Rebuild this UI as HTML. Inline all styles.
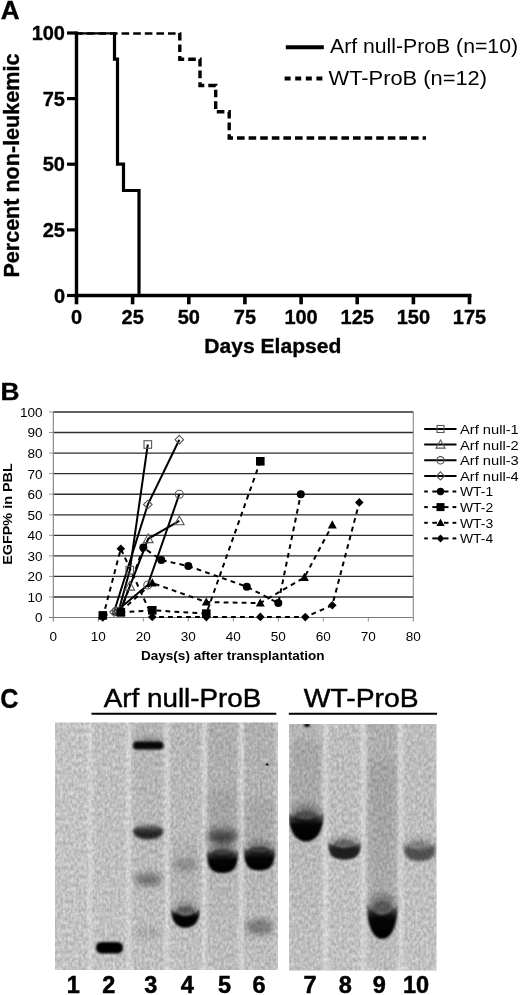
<!DOCTYPE html>
<html><head><meta charset="utf-8"><title>Figure</title>
<style>
html,body{margin:0;padding:0;background:#fff;width:520px;height:995px;overflow:hidden}
svg{display:block;will-change:transform}
text{font-family:"Liberation Sans", sans-serif;fill:#000}
</style></head>
<body>
<svg width="520" height="995" viewBox="0 0 520 995">
<text x="0.8" y="19.0" font-size="25.5" font-weight="bold" text-anchor="start" textLength="18.8" lengthAdjust="spacingAndGlyphs" stroke="#000" stroke-width="0.35">A</text>
<line x1="76.5" y1="31.5" x2="76.5" y2="297.3" stroke="#000" stroke-width="3.4"/>
<line x1="74.8" y1="295.5" x2="471.5" y2="295.5" stroke="#000" stroke-width="3.6"/>
<line x1="67" y1="295.5" x2="76.5" y2="295.5" stroke="#000" stroke-width="3.2"/>
<text x="65" y="302.7" font-size="20" font-weight="bold" text-anchor="end" stroke="#000" stroke-width="0.35">0</text>
<line x1="67" y1="229.9" x2="76.5" y2="229.9" stroke="#000" stroke-width="3.2"/>
<text x="65" y="237.075" font-size="20" font-weight="bold" text-anchor="end" stroke="#000" stroke-width="0.35">25</text>
<line x1="67" y1="164.2" x2="76.5" y2="164.2" stroke="#000" stroke-width="3.2"/>
<text x="65" y="171.45" font-size="20" font-weight="bold" text-anchor="end" stroke="#000" stroke-width="0.35">50</text>
<line x1="67" y1="98.6" x2="76.5" y2="98.6" stroke="#000" stroke-width="3.2"/>
<text x="65" y="105.825" font-size="20" font-weight="bold" text-anchor="end" stroke="#000" stroke-width="0.35">75</text>
<line x1="67" y1="33.0" x2="76.5" y2="33.0" stroke="#000" stroke-width="3.2"/>
<text x="65" y="40.2" font-size="20" font-weight="bold" text-anchor="end" stroke="#000" stroke-width="0.35">100</text>
<line x1="76.5" y1="295.5" x2="76.5" y2="304.3" stroke="#000" stroke-width="3.6"/>
<text x="76.5" y="324" font-size="20" font-weight="bold" text-anchor="middle" stroke="#000" stroke-width="0.35">0</text>
<line x1="132.6" y1="295.5" x2="132.6" y2="304.3" stroke="#000" stroke-width="3.6"/>
<text x="132.64285714285714" y="324" font-size="20" font-weight="bold" text-anchor="middle" stroke="#000" stroke-width="0.35">25</text>
<line x1="188.8" y1="295.5" x2="188.8" y2="304.3" stroke="#000" stroke-width="3.6"/>
<text x="188.78571428571428" y="324" font-size="20" font-weight="bold" text-anchor="middle" stroke="#000" stroke-width="0.35">50</text>
<line x1="244.9" y1="295.5" x2="244.9" y2="304.3" stroke="#000" stroke-width="3.6"/>
<text x="244.92857142857142" y="324" font-size="20" font-weight="bold" text-anchor="middle" stroke="#000" stroke-width="0.35">75</text>
<line x1="301.1" y1="295.5" x2="301.1" y2="304.3" stroke="#000" stroke-width="3.6"/>
<text x="301.07142857142856" y="324" font-size="20" font-weight="bold" text-anchor="middle" stroke="#000" stroke-width="0.35">100</text>
<line x1="357.2" y1="295.5" x2="357.2" y2="304.3" stroke="#000" stroke-width="3.6"/>
<text x="357.2142857142857" y="324" font-size="20" font-weight="bold" text-anchor="middle" stroke="#000" stroke-width="0.35">125</text>
<line x1="413.4" y1="295.5" x2="413.4" y2="304.3" stroke="#000" stroke-width="3.6"/>
<text x="413.35714285714283" y="324" font-size="20" font-weight="bold" text-anchor="middle" stroke="#000" stroke-width="0.35">150</text>
<line x1="469.5" y1="295.5" x2="469.5" y2="304.3" stroke="#000" stroke-width="3.6"/>
<text x="469.5" y="324" font-size="20" font-weight="bold" text-anchor="middle" stroke="#000" stroke-width="0.35">175</text>
<text x="204.3" y="352.7" font-size="21" font-weight="bold" text-anchor="start" textLength="137" lengthAdjust="spacingAndGlyphs" stroke="#000" stroke-width="0.35">Days Elapsed</text>
<g transform="translate(18.8,277.6) rotate(-90)">
<text x="0" y="0" font-size="22" font-weight="bold" text-anchor="start" textLength="224" lengthAdjust="spacingAndGlyphs" stroke="#000" stroke-width="0.35">Percent non-leukemic</text>
</g>
<clipPath id="cA"><rect x="70" y="32.3" width="450" height="270"/></clipPath><g clip-path="url(#cA)">
<path d="M 76.5 33.0 H 179.8 V 59.2 H 200.0 V 85.5 H 215.7 V 111.8 H 229.2 V 138.0 H 426" fill="none" stroke="#000" stroke-width="3.4" stroke-dasharray="7.6 4" stroke-dashoffset="1.3"/>
<path d="M 76.5 33.0 H 114.5 V 59.2 H 117.5 V 164.2 H 123.5 V 190.5 H 139 V 295.5" fill="none" stroke="#000" stroke-width="3.2"/>
</g>
<line x1="285.8" y1="47.3" x2="323.8" y2="47.3" stroke="#000" stroke-width="4"/>
<line x1="284.6" y1="78.4" x2="323" y2="78.4" stroke="#000" stroke-width="4" stroke-dasharray="6 4.6"/>
<text x="330" y="53" font-size="20" text-anchor="start" textLength="188" lengthAdjust="spacingAndGlyphs">Arf null-ProB (n=10)</text>
<text x="328.5" y="85.4" font-size="20" text-anchor="start" textLength="158.5" lengthAdjust="spacingAndGlyphs">WT-ProB (n=12)</text>
<text x="0.6" y="400" font-size="24.5" font-weight="bold" text-anchor="start" textLength="19" lengthAdjust="spacingAndGlyphs" stroke="#000" stroke-width="0.35">B</text>
<line x1="53.3" y1="597.0" x2="413.3" y2="597.0" stroke="#2e2e2e" stroke-width="1.35"/>
<line x1="49" y1="597.0" x2="53.3" y2="597.0" stroke="#999" stroke-width="1"/>
<line x1="53.3" y1="576.4" x2="413.3" y2="576.4" stroke="#2e2e2e" stroke-width="1.35"/>
<line x1="49" y1="576.4" x2="53.3" y2="576.4" stroke="#999" stroke-width="1"/>
<line x1="53.3" y1="555.9" x2="413.3" y2="555.9" stroke="#2e2e2e" stroke-width="1.35"/>
<line x1="49" y1="555.9" x2="53.3" y2="555.9" stroke="#999" stroke-width="1"/>
<line x1="53.3" y1="535.3" x2="413.3" y2="535.3" stroke="#2e2e2e" stroke-width="1.35"/>
<line x1="49" y1="535.3" x2="53.3" y2="535.3" stroke="#999" stroke-width="1"/>
<line x1="53.3" y1="514.8" x2="413.3" y2="514.8" stroke="#2e2e2e" stroke-width="1.35"/>
<line x1="49" y1="514.8" x2="53.3" y2="514.8" stroke="#999" stroke-width="1"/>
<line x1="53.3" y1="494.2" x2="413.3" y2="494.2" stroke="#2e2e2e" stroke-width="1.35"/>
<line x1="49" y1="494.2" x2="53.3" y2="494.2" stroke="#999" stroke-width="1"/>
<line x1="53.3" y1="473.6" x2="413.3" y2="473.6" stroke="#2e2e2e" stroke-width="1.35"/>
<line x1="49" y1="473.6" x2="53.3" y2="473.6" stroke="#999" stroke-width="1"/>
<line x1="53.3" y1="453.1" x2="413.3" y2="453.1" stroke="#2e2e2e" stroke-width="1.35"/>
<line x1="49" y1="453.1" x2="53.3" y2="453.1" stroke="#999" stroke-width="1"/>
<line x1="53.3" y1="432.5" x2="413.3" y2="432.5" stroke="#2e2e2e" stroke-width="1.35"/>
<line x1="49" y1="432.5" x2="53.3" y2="432.5" stroke="#999" stroke-width="1"/>
<line x1="53.3" y1="412.0" x2="413.3" y2="412.0" stroke="#2e2e2e" stroke-width="1.35"/>
<line x1="49" y1="412.0" x2="53.3" y2="412.0" stroke="#999" stroke-width="1"/>
<line x1="49" y1="617.5" x2="413.3" y2="617.5" stroke="#7a7a7a" stroke-width="1.2"/>
<line x1="53.3" y1="412.0" x2="53.3" y2="621.5" stroke="#808080" stroke-width="1.1"/>
<line x1="413.3" y1="412.0" x2="413.3" y2="621.5" stroke="#8a8a8a" stroke-width="1.1"/>
<line x1="98.3" y1="617.5" x2="98.3" y2="621.5" stroke="#8a8a8a" stroke-width="1"/>
<line x1="143.3" y1="617.5" x2="143.3" y2="621.5" stroke="#8a8a8a" stroke-width="1"/>
<line x1="188.3" y1="617.5" x2="188.3" y2="621.5" stroke="#8a8a8a" stroke-width="1"/>
<line x1="233.3" y1="617.5" x2="233.3" y2="621.5" stroke="#8a8a8a" stroke-width="1"/>
<line x1="278.3" y1="617.5" x2="278.3" y2="621.5" stroke="#8a8a8a" stroke-width="1"/>
<line x1="323.3" y1="617.5" x2="323.3" y2="621.5" stroke="#8a8a8a" stroke-width="1"/>
<line x1="368.3" y1="617.5" x2="368.3" y2="621.5" stroke="#8a8a8a" stroke-width="1"/>
<text x="42.6" y="622.4" font-size="12.8" text-anchor="end" textLength="7.55" lengthAdjust="spacingAndGlyphs">0</text>
<text x="42.6" y="601.85" font-size="12.8" text-anchor="end" textLength="15.1" lengthAdjust="spacingAndGlyphs">10</text>
<text x="42.6" y="581.3" font-size="12.8" text-anchor="end" textLength="15.1" lengthAdjust="spacingAndGlyphs">20</text>
<text x="42.6" y="560.75" font-size="12.8" text-anchor="end" textLength="15.1" lengthAdjust="spacingAndGlyphs">30</text>
<text x="42.6" y="540.1999999999999" font-size="12.8" text-anchor="end" textLength="15.1" lengthAdjust="spacingAndGlyphs">40</text>
<text x="42.6" y="519.65" font-size="12.8" text-anchor="end" textLength="15.1" lengthAdjust="spacingAndGlyphs">50</text>
<text x="42.6" y="499.09999999999997" font-size="12.8" text-anchor="end" textLength="15.1" lengthAdjust="spacingAndGlyphs">60</text>
<text x="42.6" y="478.54999999999995" font-size="12.8" text-anchor="end" textLength="15.1" lengthAdjust="spacingAndGlyphs">70</text>
<text x="42.6" y="458.0" font-size="12.8" text-anchor="end" textLength="15.1" lengthAdjust="spacingAndGlyphs">80</text>
<text x="42.6" y="437.44999999999993" font-size="12.8" text-anchor="end" textLength="15.1" lengthAdjust="spacingAndGlyphs">90</text>
<text x="42.6" y="416.9" font-size="12.8" text-anchor="end" textLength="22.65" lengthAdjust="spacingAndGlyphs">100</text>
<text x="53.3" y="641.4" font-size="12.8" text-anchor="middle" textLength="7.55" lengthAdjust="spacingAndGlyphs">0</text>
<text x="98.3" y="641.4" font-size="12.8" text-anchor="middle" textLength="15.1" lengthAdjust="spacingAndGlyphs">10</text>
<text x="143.3" y="641.4" font-size="12.8" text-anchor="middle" textLength="15.1" lengthAdjust="spacingAndGlyphs">20</text>
<text x="188.3" y="641.4" font-size="12.8" text-anchor="middle" textLength="15.1" lengthAdjust="spacingAndGlyphs">30</text>
<text x="233.3" y="641.4" font-size="12.8" text-anchor="middle" textLength="15.1" lengthAdjust="spacingAndGlyphs">40</text>
<text x="278.3" y="641.4" font-size="12.8" text-anchor="middle" textLength="15.1" lengthAdjust="spacingAndGlyphs">50</text>
<text x="323.3" y="641.4" font-size="12.8" text-anchor="middle" textLength="15.1" lengthAdjust="spacingAndGlyphs">60</text>
<text x="368.3" y="641.4" font-size="12.8" text-anchor="middle" textLength="15.1" lengthAdjust="spacingAndGlyphs">70</text>
<text x="413.3" y="641.4" font-size="12.8" text-anchor="middle" textLength="15.1" lengthAdjust="spacingAndGlyphs">80</text>
<text x="141" y="660.4" font-size="12.3" font-weight="bold" text-anchor="start" textLength="183.5" lengthAdjust="spacingAndGlyphs">Days(s) after transplantation</text>
<g transform="translate(12.3,564.8) rotate(-90)">
<text x="0" y="0" font-size="12.5" font-weight="bold" text-anchor="start" textLength="101.5" lengthAdjust="spacingAndGlyphs">EGFP% in PBL</text>
</g>
<path d="M 102.8 617.5 L 120.8 548.7 L 152.3 616.9 L 206.3 617.1 L 260.3 616.9 L 305.3 617.1 L 332.3 605.2 L 359.3 502.4" fill="none" stroke="#000" stroke-width="2" stroke-dasharray="4.8 4.2"/>
<path d="M 120.8 611.3 L 152.3 583.0 L 206.3 602.1 L 260.3 603.1 L 304.4 577.4 L 332.3 525.0" fill="none" stroke="#000" stroke-width="2" stroke-dasharray="4.8 4.2"/>
<path d="M 102.8 615.4 L 120.8 612.4 L 152.3 610.3 L 206.3 613.6 L 260.3 461.3" fill="none" stroke="#000" stroke-width="2" stroke-dasharray="4.8 4.2"/>
<path d="M 120.8 611.3 L 143.3 547.6 L 161.3 560.0 L 188.3 566.1 L 246.8 586.7 L 278.3 603.1 L 300.8 494.2" fill="none" stroke="#000" stroke-width="2" stroke-dasharray="4.8 4.2"/>
<path d="M 114.0 612.0 L 147.8 504.5 L 179.3 439.7" fill="none" stroke="#000" stroke-width="2"/>
<path d="M 116.3 611.3 L 147.8 585.0 L 179.3 494.2" fill="none" stroke="#000" stroke-width="2"/>
<path d="M 119.9 611.3 L 129.8 586.3 L 148.2 538.8 L 179.3 520.9" fill="none" stroke="#000" stroke-width="2"/>
<path d="M 118.5 611.3 L 129.8 570.2 L 147.8 444.5" fill="none" stroke="#000" stroke-width="2"/>
<path d="M 114.0 607.7 L 118.3 612.0 L 114.0 616.3 L 109.8 612.0 Z" fill="none" stroke="#555" stroke-width="1.1"/>
<path d="M 147.8 500.2 L 152.1 504.5 L 147.8 508.8 L 143.5 504.5 Z" fill="none" stroke="#555" stroke-width="1.1"/>
<path d="M 179.3 435.4 L 183.6 439.7 L 179.3 444.0 L 175.0 439.7 Z" fill="none" stroke="#555" stroke-width="1.1"/>
<circle cx="116.3" cy="611.3" r="4.0" fill="none" stroke="#555" stroke-width="1.1"/>
<circle cx="147.8" cy="585.0" r="4.0" fill="none" stroke="#555" stroke-width="1.1"/>
<circle cx="179.3" cy="494.2" r="4.0" fill="none" stroke="#555" stroke-width="1.1"/>
<path d="M 119.9 606.5 L 124.7 615.1 L 115.1 615.1 Z" fill="none" stroke="#555" stroke-width="1.1"/>
<path d="M 129.8 581.5 L 134.6 590.1 L 125.0 590.1 Z" fill="none" stroke="#555" stroke-width="1.1"/>
<path d="M 148.2 534.0 L 153.1 542.6 L 143.4 542.6 Z" fill="none" stroke="#555" stroke-width="1.1"/>
<path d="M 179.3 516.1 L 184.1 524.7 L 174.5 524.7 Z" fill="none" stroke="#555" stroke-width="1.1"/>
<rect x="114.8" y="607.5" width="7.6" height="7.6" fill="none" stroke="#555" stroke-width="1.1"/>
<rect x="126.0" y="566.4" width="7.6" height="7.6" fill="none" stroke="#555" stroke-width="1.1"/>
<rect x="144.0" y="440.7" width="7.6" height="7.6" fill="none" stroke="#555" stroke-width="1.1"/>
<path d="M 102.8 613.2 L 107.1 617.5 L 102.8 621.8 L 98.5 617.5 Z" fill="#000"/>
<path d="M 120.8 544.4 L 125.1 548.7 L 120.8 553.0 L 116.5 548.7 Z" fill="#000"/>
<path d="M 152.3 612.6 L 156.6 616.9 L 152.3 621.2 L 148.0 616.9 Z" fill="#000"/>
<path d="M 206.3 612.8 L 210.6 617.1 L 206.3 621.4 L 202.0 617.1 Z" fill="#000"/>
<path d="M 260.3 612.6 L 264.6 616.9 L 260.3 621.2 L 256.0 616.9 Z" fill="#000"/>
<path d="M 305.3 612.8 L 309.6 617.1 L 305.3 621.4 L 301.0 617.1 Z" fill="#000"/>
<path d="M 332.3 600.9 L 336.6 605.2 L 332.3 609.5 L 328.0 605.2 Z" fill="#000"/>
<path d="M 359.3 498.1 L 363.6 502.4 L 359.3 506.7 L 355.0 502.4 Z" fill="#000"/>
<path d="M 120.8 606.6 L 125.3 614.8 L 116.3 614.8 Z" fill="#000"/>
<path d="M 152.3 578.3 L 156.8 586.5 L 147.8 586.5 Z" fill="#000"/>
<path d="M 206.3 597.4 L 210.8 605.6 L 201.8 605.6 Z" fill="#000"/>
<path d="M 260.3 598.4 L 264.8 606.6 L 255.8 606.6 Z" fill="#000"/>
<path d="M 304.4 572.7 L 308.9 580.9 L 299.9 580.9 Z" fill="#000"/>
<path d="M 332.3 520.3 L 336.8 528.5 L 327.8 528.5 Z" fill="#000"/>
<rect x="98.5" y="611.1" width="8.6" height="8.6" fill="#000"/>
<rect x="116.5" y="608.1" width="8.6" height="8.6" fill="#000"/>
<rect x="148.0" y="606.0" width="8.6" height="8.6" fill="#000"/>
<rect x="202.0" y="609.3" width="8.6" height="8.6" fill="#000"/>
<rect x="256.0" y="457.0" width="8.6" height="8.6" fill="#000"/>
<circle cx="120.8" cy="611.3" r="4.0" fill="#000"/>
<circle cx="143.3" cy="547.6" r="4.0" fill="#000"/>
<circle cx="161.3" cy="560.0" r="4.0" fill="#000"/>
<circle cx="188.3" cy="566.1" r="4.0" fill="#000"/>
<circle cx="246.8" cy="586.7" r="4.0" fill="#000"/>
<circle cx="278.3" cy="603.1" r="4.0" fill="#000"/>
<circle cx="300.8" cy="494.2" r="4.0" fill="#000"/>
<line x1="424.2" y1="429.0" x2="456.5" y2="429.0" stroke="#000" stroke-width="2"/>
<rect x="437.0" y="425.5" width="7.0" height="7.0" fill="none" stroke="#555" stroke-width="1.1"/>
<text x="460.0" y="433.9" font-size="12.8" text-anchor="start" textLength="58.8" lengthAdjust="spacingAndGlyphs">Arf null-1</text>
<line x1="424.2" y1="444.6" x2="456.5" y2="444.6" stroke="#000" stroke-width="2"/>
<path d="M 440.5 440.1 L 445.0 448.1 L 436.0 448.1 Z" fill="none" stroke="#555" stroke-width="1.1"/>
<text x="460.0" y="449.53" font-size="12.8" text-anchor="start" textLength="58.8" lengthAdjust="spacingAndGlyphs">Arf null-2</text>
<line x1="424.2" y1="460.3" x2="456.5" y2="460.3" stroke="#000" stroke-width="2"/>
<circle cx="440.5" cy="460.3" r="3.7" fill="none" stroke="#555" stroke-width="1.1"/>
<text x="460.0" y="465.15999999999997" font-size="12.8" text-anchor="start" textLength="58.8" lengthAdjust="spacingAndGlyphs">Arf null-3</text>
<line x1="424.2" y1="475.9" x2="456.5" y2="475.9" stroke="#000" stroke-width="2"/>
<path d="M 440.5 471.9 L 444.5 475.9 L 440.5 479.9 L 436.5 475.9 Z" fill="none" stroke="#555" stroke-width="1.1"/>
<text x="460.0" y="480.78999999999996" font-size="12.8" text-anchor="start" textLength="58.8" lengthAdjust="spacingAndGlyphs">Arf null-4</text>
<line x1="424.2" y1="491.5" x2="427.8" y2="491.5" stroke="#000" stroke-width="2"/>
<line x1="432.3" y1="491.5" x2="437" y2="491.5" stroke="#000" stroke-width="2"/>
<line x1="444" y1="491.5" x2="448.5" y2="491.5" stroke="#000" stroke-width="2"/>
<line x1="452.5" y1="491.5" x2="456.3" y2="491.5" stroke="#000" stroke-width="2"/>
<circle cx="440.5" cy="491.5" r="3.7" fill="#000"/>
<text x="460.0" y="496.41999999999996" font-size="12.8" text-anchor="start" textLength="33.2" lengthAdjust="spacingAndGlyphs">WT-1</text>
<line x1="424.2" y1="507.1" x2="427.8" y2="507.1" stroke="#000" stroke-width="2"/>
<line x1="432.3" y1="507.1" x2="437" y2="507.1" stroke="#000" stroke-width="2"/>
<line x1="444" y1="507.1" x2="448.5" y2="507.1" stroke="#000" stroke-width="2"/>
<line x1="452.5" y1="507.1" x2="456.3" y2="507.1" stroke="#000" stroke-width="2"/>
<rect x="436.5" y="503.1" width="8.0" height="8.0" fill="#000"/>
<text x="460.0" y="512.05" font-size="12.8" text-anchor="start" textLength="33.2" lengthAdjust="spacingAndGlyphs">WT-2</text>
<line x1="424.2" y1="522.8" x2="427.8" y2="522.8" stroke="#000" stroke-width="2"/>
<line x1="432.3" y1="522.8" x2="437" y2="522.8" stroke="#000" stroke-width="2"/>
<line x1="444" y1="522.8" x2="448.5" y2="522.8" stroke="#000" stroke-width="2"/>
<line x1="452.5" y1="522.8" x2="456.3" y2="522.8" stroke="#000" stroke-width="2"/>
<path d="M 440.5 518.4 L 444.7 526.0 L 436.3 526.0 Z" fill="#000"/>
<text x="460.0" y="527.68" font-size="12.8" text-anchor="start" textLength="33.2" lengthAdjust="spacingAndGlyphs">WT-3</text>
<line x1="424.2" y1="538.4" x2="427.8" y2="538.4" stroke="#000" stroke-width="2"/>
<line x1="432.3" y1="538.4" x2="437" y2="538.4" stroke="#000" stroke-width="2"/>
<line x1="444" y1="538.4" x2="448.5" y2="538.4" stroke="#000" stroke-width="2"/>
<line x1="452.5" y1="538.4" x2="456.3" y2="538.4" stroke="#000" stroke-width="2"/>
<path d="M 440.5 534.4 L 444.5 538.4 L 440.5 542.4 L 436.5 538.4 Z" fill="#000"/>
<text x="460.0" y="543.31" font-size="12.8" text-anchor="start" textLength="33.2" lengthAdjust="spacingAndGlyphs">WT-4</text>
<text x="0.3" y="707.8" font-size="27" font-weight="bold" text-anchor="start" textLength="18.2" lengthAdjust="spacingAndGlyphs" stroke="#000" stroke-width="0.35">C</text>
<text x="103.8" y="706.6" font-size="25.8" text-anchor="start" textLength="157.5" lengthAdjust="spacingAndGlyphs" stroke="#000" stroke-width="0.45">Arf null-ProB</text>
<text x="303.8" y="707.3" font-size="25.8" text-anchor="start" textLength="114.8" lengthAdjust="spacingAndGlyphs" stroke="#000" stroke-width="0.45">WT-ProB</text>
<line x1="91.5" y1="713.8" x2="276.3" y2="713.8" stroke="#000" stroke-width="2"/>
<line x1="288.8" y1="713.8" x2="437" y2="713.8" stroke="#000" stroke-width="2"/>
<defs>
<filter id="noise" x="0" y="0" width="100%" height="100%" color-interpolation-filters="sRGB">
  <feTurbulence type="fractalNoise" baseFrequency="0.38 0.24" numOctaves="3" seed="11" result="t"/>
  <feColorMatrix type="matrix" values="1.4 0 0 0 -0.2  1.4 0 0 0 -0.2  1.4 0 0 0 -0.2  0 0 0 0 1" in="t"/>
  <feComposite in2="SourceGraphic" operator="in"/>
</filter>
<filter id="b1" x="-50%" y="-100%" width="200%" height="300%"><feGaussianBlur stdDeviation="1.2"/></filter>
<filter id="b15" x="-50%" y="-100%" width="200%" height="300%"><feGaussianBlur stdDeviation="1.8"/></filter>
<filter id="b2" x="-50%" y="-100%" width="200%" height="300%"><feGaussianBlur stdDeviation="3"/></filter>
<filter id="b3" x="-50%" y="-100%" width="200%" height="300%"><feGaussianBlur stdDeviation="5"/></filter>
<filter id="bs" x="-50%" y="-10%" width="200%" height="120%"><feGaussianBlur stdDeviation="1.4 0"/></filter>
<clipPath id="gL"><rect x="55" y="722.5" width="223" height="247.5"/></clipPath>
<clipPath id="gR"><rect x="289" y="724" width="147.5" height="246.5"/></clipPath>
<linearGradient id="gk" x1="0" y1="0" x2="0" y2="1"><stop offset="0" stop-color="#000" stop-opacity="0.15"/><stop offset="0.4" stop-color="#000" stop-opacity="0.85"/><stop offset="0.6" stop-color="#000" stop-opacity="1"/></linearGradient>
<linearGradient id="gc" x1="0" y1="0" x2="0" y2="1"><stop offset="0" stop-color="#000" stop-opacity="0.3"/><stop offset="0.4" stop-color="#000" stop-opacity="0.97"/><stop offset="1" stop-color="#000" stop-opacity="1"/></linearGradient>
<radialGradient id="gu" cx="0.5" cy="0.1" r="0.9" fx="0.5" fy="0.1"><stop offset="0" stop-color="#000" stop-opacity="0.35"/><stop offset="0.3" stop-color="#000" stop-opacity="0.88"/><stop offset="0.5" stop-color="#000" stop-opacity="1"/></radialGradient>
<radialGradient id="gu2" cx="0.5" cy="0.05" r="0.95" fx="0.5" fy="0.05"><stop offset="0" stop-color="#000" stop-opacity="0.1"/><stop offset="0.45" stop-color="#000" stop-opacity="0.65"/><stop offset="0.75" stop-color="#000" stop-opacity="1"/></radialGradient>
</defs>
<rect x="55" y="722.5" width="223" height="247.5" fill="#d6d6d6"/>
<rect x="55" y="722.5" width="223" height="247.5" fill="#000" filter="url(#noise)" opacity="0.21"/>
<rect x="289" y="724" width="147.5" height="246.5" fill="#d6d6d6"/>
<rect x="289" y="724" width="147.5" height="246.5" fill="#000" filter="url(#noise)" opacity="0.21"/>
<linearGradient id="ld" x1="0" y1="0" x2="0" y2="1"><stop offset="0" stop-color="#000" stop-opacity="1"/><stop offset="0.55" stop-color="#000" stop-opacity="0.7"/><stop offset="1" stop-color="#000" stop-opacity="0.25"/></linearGradient>
<g clip-path="url(#gL)"><rect x="94.5" y="722" width="30" height="250" fill="url(#ld)" opacity="0.02" filter="url(#bs)"/></g>
<g clip-path="url(#gL)"><rect x="133.2" y="722" width="30" height="250" fill="url(#ld)" opacity="0.07" filter="url(#bs)"/></g>
<g clip-path="url(#gL)"><rect x="170.5" y="722" width="30" height="250" fill="url(#ld)" opacity="0.06" filter="url(#bs)"/></g>
<g clip-path="url(#gL)"><rect x="207.5" y="722" width="30" height="250" fill="url(#ld)" opacity="0.11" filter="url(#bs)"/></g>
<g clip-path="url(#gL)"><rect x="244.5" y="722" width="30" height="250" fill="url(#ld)" opacity="0.1" filter="url(#bs)"/></g>
<g clip-path="url(#gR)"><rect x="291" y="722" width="30" height="250" fill="url(#ld)" opacity="0.07" filter="url(#bs)"/></g>
<g clip-path="url(#gR)"><rect x="329.5" y="722" width="30" height="250" fill="url(#ld)" opacity="0.03" filter="url(#bs)"/></g>
<g clip-path="url(#gR)"><rect x="367.3" y="722" width="30" height="250" fill="url(#ld)" opacity="0.1" filter="url(#bs)"/></g>
<g clip-path="url(#gR)"><rect x="404.8" y="722" width="30" height="250" fill="url(#ld)" opacity="0.03" filter="url(#bs)"/></g>
<g clip-path="url(#gL)" filter="url(#bs)">
<rect x="88" y="715" width="4" height="265" fill="#fff" opacity="0.28"/>
<rect x="126.5" y="715" width="4" height="265" fill="#fff" opacity="0.28"/>
<rect x="165" y="715" width="4" height="265" fill="#fff" opacity="0.28"/>
<rect x="202.5" y="715" width="4" height="265" fill="#fff" opacity="0.28"/>
<rect x="239.5" y="715" width="4" height="265" fill="#fff" opacity="0.28"/>
</g>
<g clip-path="url(#gR)" filter="url(#bs)">
<rect x="323.5" y="715" width="4" height="265" fill="#fff" opacity="0.32"/>
<rect x="361.5" y="715" width="4" height="265" fill="#fff" opacity="0.32"/>
<rect x="398.5" y="715" width="4" height="265" fill="#fff" opacity="0.32"/>
</g>
<g clip-path="url(#gL)">
<rect x="96" y="942" width="27" height="11.5" rx="5.5" fill="#000" filter="url(#b1)"/>
<ellipse cx="148.2" cy="742" rx="14" ry="5" fill="#000" opacity="0.25" filter="url(#b2)"/>
<rect x="133" y="741.5" width="30.5" height="8" rx="4" fill="#000" opacity="0.95" filter="url(#b1)"/>
<ellipse cx="148.2" cy="831.5" rx="15.0" ry="8.0" fill="url(#gk)" filter="url(#b15)" opacity="0.8"/>
<ellipse cx="148.2" cy="879.5" rx="14.0" ry="6.5" fill="#000" filter="url(#b2)" opacity="0.38"/>
<ellipse cx="148.2" cy="933" rx="13.0" ry="4.5" fill="#000" filter="url(#b2)" opacity="0.12"/>
<rect x="173.5" y="840" width="24" height="65" fill="#000" opacity="0.06" filter="url(#b3)"/>
<ellipse cx="185.5" cy="909.5" rx="12.8" ry="6.8" fill="#000" opacity="0.30" filter="url(#b2)"/>
<g opacity="1.0" filter="url(#b1)"><path d="M 171.2 908.5 C 171.2 921.4 176.5 927.8 185.5 927.8 C 194.5 927.8 199.8 921.4 199.8 908.5 Q 185.5 923.5 171.2 908.5 Z" fill="url(#gc)"/><ellipse cx="185.5" cy="913.0" rx="10.3" ry="6.8" fill="#000" opacity="0.3"/></g>
<ellipse cx="185.5" cy="865" rx="13.0" ry="5.5" fill="#000" filter="url(#b2)" opacity="0.22"/>
<rect x="208.5" y="790" width="28" height="60" fill="#000" opacity="0.08" filter="url(#b3)"/>
<ellipse cx="222.5" cy="835" rx="15.0" ry="9.0" fill="url(#gk)" filter="url(#b2)" opacity="0.6"/>
<ellipse cx="222.5" cy="851.5" rx="14.0" ry="7.9" fill="#000" opacity="0.30" filter="url(#b2)"/>
<g opacity="1.0" filter="url(#b1)"><path d="M 207.0 850.5 C 207.0 867.4 210.7 873.0 222.5 873.0 C 234.3 873.0 238.0 867.4 238.0 850.5 Q 222.5 859.5 207.0 850.5 Z" fill="url(#gc)"/><ellipse cx="222.5" cy="853.2" rx="11.2" ry="4.0" fill="#000" opacity="0.5"/></g>
<rect x="245.5" y="800" width="28" height="50" fill="#000" opacity="0.07" filter="url(#b3)"/>
<ellipse cx="259.5" cy="849.0" rx="14.0" ry="7.9" fill="#000" opacity="0.30" filter="url(#b2)"/>
<g opacity="1.0" filter="url(#b1)"><path d="M 244.0 848.0 C 244.0 864.9 247.7 870.5 259.5 870.5 C 271.3 870.5 275.0 864.9 275.0 848.0 Q 259.5 857.0 244.0 848.0 Z" fill="url(#gc)"/><ellipse cx="259.5" cy="850.7" rx="11.2" ry="4.0" fill="#000" opacity="0.5"/></g>
<ellipse cx="259.5" cy="927" rx="14.0" ry="8.0" fill="#000" filter="url(#b2)" opacity="0.35"/>
<circle cx="267.1" cy="764.5" r="1.3" fill="#000" opacity="0.85"/>
</g>
<g clip-path="url(#gR)">
<rect x="290.0" y="740" width="32" height="72" fill="#000" opacity="0.08" filter="url(#b3)"/>
<ellipse cx="306.2" cy="814.0" rx="15.8" ry="10.0" fill="#000" opacity="0.30" filter="url(#b2)"/>
<g opacity="1.0" filter="url(#b1)"><path d="M 288.7 813.0 C 288.7 831.2 296.0 841.5 306.2 841.5 C 316.4 841.5 323.7 831.2 323.7 813.0 Q 306.2 826.0 288.7 813.0 Z" fill="url(#gc)"/><ellipse cx="306.2" cy="816.9" rx="12.6" ry="5.9" fill="#000" opacity="0.4"/></g>
<ellipse cx="344.5" cy="842.5" rx="14.6" ry="6.3" fill="#000" opacity="0.26" filter="url(#b2)"/>
<g opacity="0.85" filter="url(#b1)"><path d="M 328.2 841.5 C 328.2 855.0 332.1 859.5 344.5 859.5 C 356.9 859.5 360.8 855.0 360.8 841.5 Q 344.5 854.5 328.2 841.5 Z" fill="url(#gc)"/><ellipse cx="344.5" cy="845.4" rx="11.7" ry="5.9" fill="#000" opacity="0.35"/></g>
<rect x="369.3" y="760" width="26" height="145" fill="#000" opacity="0.08" filter="url(#b3)"/>
<ellipse cx="382.3" cy="905.5" rx="13.7" ry="12.1" fill="#000" opacity="0.30" filter="url(#b2)"/>
<g opacity="1.0" filter="url(#b1)"><path d="M 367.1 904.5 C 367.1 926.6 373.4 939.0 382.3 939.0 C 391.2 939.0 397.6 926.6 397.6 904.5 Q 382.3 925.5 367.1 904.5 Z" fill="url(#gc)"/><ellipse cx="382.3" cy="910.8" rx="11.0" ry="9.5" fill="#000" opacity="0.3"/></g>
<ellipse cx="419.8" cy="844.0" rx="14.6" ry="6.3" fill="#000" opacity="0.17" filter="url(#b2)"/>
<g opacity="0.58" filter="url(#b15)"><path d="M 403.6 843.0 C 403.6 856.5 407.4 861.0 419.8 861.0 C 432.2 861.0 436.1 856.5 436.1 843.0 Q 419.8 856.0 403.6 843.0 Z" fill="url(#gc)"/><ellipse cx="419.8" cy="846.9" rx="11.7" ry="5.9" fill="#000" opacity="0.35"/></g>
<ellipse cx="307" cy="725" rx="3.0" ry="2.0" fill="#000" filter="url(#b1)" opacity="1.0"/>
</g>
<text x="73.4" y="993.2" font-size="23.5" font-weight="bold" text-anchor="middle" stroke="#000" stroke-width="0.5">1</text>
<text x="108.7" y="993.2" font-size="23.5" font-weight="bold" text-anchor="middle" stroke="#000" stroke-width="0.5">2</text>
<text x="150.7" y="993.2" font-size="23.5" font-weight="bold" text-anchor="middle" stroke="#000" stroke-width="0.5">3</text>
<text x="187.4" y="993.2" font-size="23.5" font-weight="bold" text-anchor="middle" stroke="#000" stroke-width="0.5">4</text>
<text x="224.5" y="993.2" font-size="23.5" font-weight="bold" text-anchor="middle" stroke="#000" stroke-width="0.5">5</text>
<text x="259" y="993.2" font-size="23.5" font-weight="bold" text-anchor="middle" stroke="#000" stroke-width="0.5">6</text>
<text x="310" y="993.2" font-size="23.5" font-weight="bold" text-anchor="middle" stroke="#000" stroke-width="0.5">7</text>
<text x="345.4" y="993.2" font-size="23.5" font-weight="bold" text-anchor="middle" stroke="#000" stroke-width="0.5">8</text>
<text x="379.2" y="993.2" font-size="23.5" font-weight="bold" text-anchor="middle" stroke="#000" stroke-width="0.5">9</text>
<text x="416" y="993.2" font-size="23.5" font-weight="bold" text-anchor="middle" stroke="#000" stroke-width="0.5">10</text>
</svg>
</body></html>
